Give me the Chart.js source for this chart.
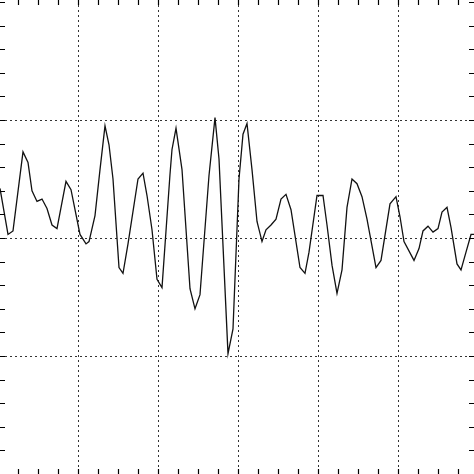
<!DOCTYPE html>
<html>
<head>
<script src="https://cdn.jsdelivr.net/npm/chart.js@4"></script>
<style>
  html, body { margin: 0; padding: 0; background: #fff; }
  #wrap { width: 474px; height: 474px; }
</style>
</head>
<body>
<div id="wrap"><canvas id="myChart"></canvas></div>
<script>
const timeValues = [-0.975, -0.875, -0.8125, -0.6875, -0.625, -0.575, -0.5125, -0.45, -0.3875, -0.325,
  -0.2625, -0.15, -0.0875, 0.025, 0.1, 0.1375, 0.2125, 0.275, 0.3375, 0.3875,
  0.4375, 0.5125, 0.5625, 0.625, 0.75, 0.8125, 0.8625, 0.925, 0.9875, 1.05,
  1.15, 1.175, 1.225, 1.3, 1.4, 1.4625, 1.525, 1.6375, 1.7125, 1.7625,
  1.875, 1.9375, 2.0125, 2.0625, 2.1125, 2.175, 2.2375, 2.3, 2.35, 2.4125,
  2.475, 2.5375, 2.6, 2.6625, 2.775, 2.8375, 2.8875, 2.9875, 3.0625, 3.1125,
  3.175, 3.2375, 3.3, 3.3625, 3.425, 3.4875, 3.55, 3.6125, 3.725, 3.7875,
  3.9, 3.975, 4.025, 4.075, 4.2, 4.2625, 4.3125, 4.375, 4.4375, 4.5,
  4.55, 4.6125, 4.6625, 4.7375, 4.7875, 4.85, 4.9125, 4.95];
const signalValues = [0.42, 0.03, 0.06, 0.73, 0.64, 0.40, 0.31, 0.33, 0.25, 0.11,
  0.08, 0.48, 0.41, 0.03, -0.05, -0.03, 0.19, 0.58, 0.95, 0.79,
  0.50, -0.25, -0.30, -0.05, 0.50, 0.55, 0.36, 0.07, -0.35, -0.42,
  0.54, 0.75, 0.93, 0.58, -0.43, -0.60, -0.48, 0.53, 1.02, 0.67,
  -0.98, -0.77, 0.50, 0.88, 0.97, 0.58, 0.14, -0.03, 0.07, 0.11,
  0.16, 0.33, 0.37, 0.24, -0.25, -0.30, -0.12, 0.36, 0.36, 0.11,
  -0.23, -0.47, -0.27, 0.26, 0.50, 0.46, 0.35, 0.16, -0.25, -0.19,
  0.29, 0.35, 0.18, -0.03, -0.19, -0.09, 0.06, 0.10, 0.05, 0.08,
  0.22, 0.26, 0.09, -0.22, -0.27, -0.12, 0.03, 0.03];
const xGridTicks = [0, 1, 2, 3, 4];
const yGridTicks = [-1, 0, 1];
const xMinorStep = 0.25;
const yMinorStep = 0.2;

const points = timeValues.map((t, i) => ({ x: t, y: signalValues[i] }));

// small tick marks along the frame edges
const edgeTicks = {
  id: 'edgeTicks',
  afterDraw(chart) {
    const { ctx, chartArea: a, scales: { x, y } } = chart;
    ctx.save();
    ctx.strokeStyle = '#000';
    ctx.lineWidth = 1.2;
    ctx.beginPath();
    for (let v = Math.ceil(x.min / xMinorStep) * xMinorStep; v <= x.max; v += xMinorStep) {
      const px = Math.round(x.getPixelForValue(v)) + 0.5;
      ctx.moveTo(px, a.bottom); ctx.lineTo(px, a.bottom - 5);
      ctx.moveTo(px, a.top); ctx.lineTo(px, a.top + 5);
    }
    for (let v = Math.ceil(y.min / yMinorStep) * yMinorStep; v <= y.max; v += yMinorStep) {
      const py = Math.round(y.getPixelForValue(v)) + 0.5;
      ctx.moveTo(a.left, py); ctx.lineTo(a.left + 5, py);
      ctx.moveTo(a.right, py); ctx.lineTo(a.right - 5, py);
    }
    ctx.stroke();
    ctx.restore();
  }
};

new Chart(document.getElementById('myChart'), {
  type: 'line',
  data: {
    datasets: [{
      data: points,
      borderColor: '#111',
      borderWidth: 1.3,
      pointRadius: 0,
      tension: 0,
      fill: false
    }]
  },
  options: {
    responsive: true,
    maintainAspectRatio: false,
    animation: false,
    layout: { padding: 0 },
    plugins: { legend: { display: false }, tooltip: { enabled: false } },
    scales: {
      x: {
        type: 'linear',
        min: -0.975,
        max: 4.95,
        afterBuildTicks: s => { s.ticks = xGridTicks.map(v => ({ value: v })); },
        ticks: { display: false },
        grid: { color: '#333', lineWidth: 1, drawTicks: false },
        border: { display: false, dash: [2, 3] }
      },
      y: {
        min: -2,
        max: 2.017,
        afterBuildTicks: s => { s.ticks = yGridTicks.map(v => ({ value: v })); },
        ticks: { display: false },
        grid: { color: '#333', lineWidth: 1, drawTicks: false },
        border: { display: false, dash: [2, 3] }
      }
    }
  },
  plugins: [edgeTicks]
});
</script>
</body>
</html>
